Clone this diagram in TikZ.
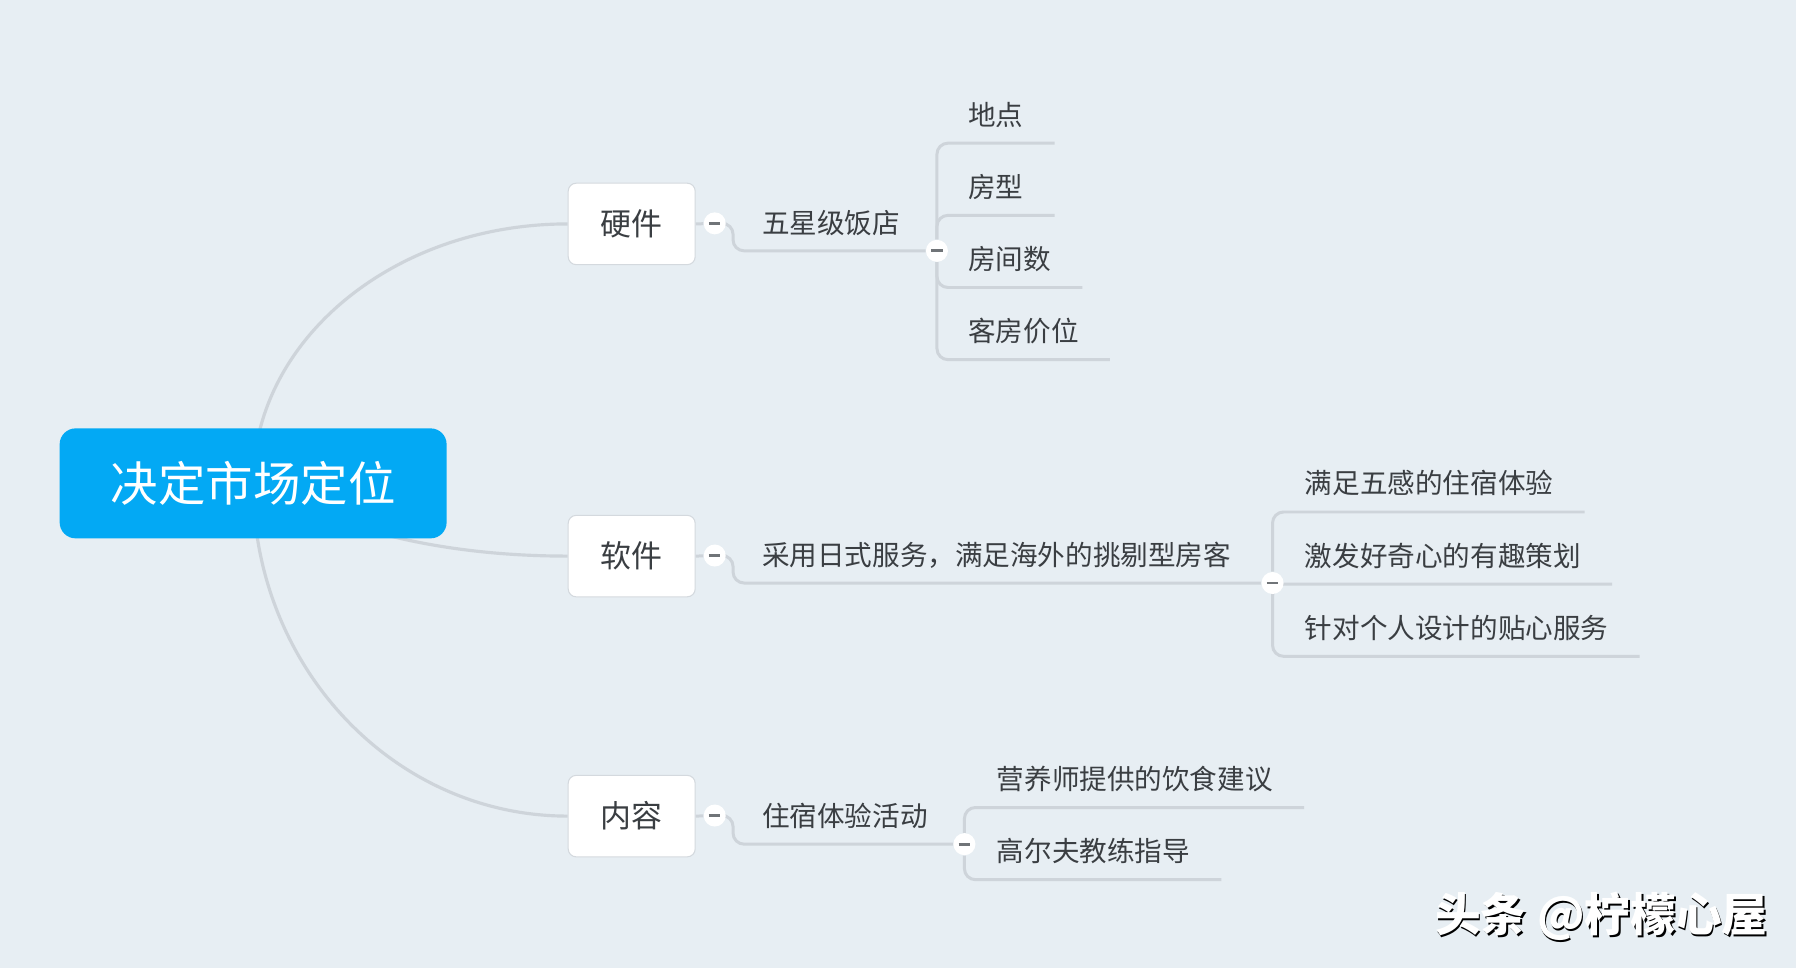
\documentclass[tikz,border=0pt]{standalone}
\usepackage{fontspec}
\setmainfont{Noto Sans CJK SC}
\usetikzlibrary{calc,backgrounds}

\definecolor{bgcol}{RGB}{231,238,243}
\definecolor{rootblue}{RGB}{3,169,244}
\definecolor{linegray}{RGB}{206,212,218}
\definecolor{boxline}{RGB}{212,217,222}
\definecolor{txtgray}{RGB}{58,62,66}
\definecolor{minusgray}{RGB}{112,116,120}

\tikzset{
  rootbox/.style={fill=rootblue, rounded corners=3.2mm, minimum width=77.4mm,
    minimum height=22mm, text=white, font=\fontsize{27pt}{30pt}\selectfont},
  topicbox/.style={draw=boxline, line width=0.6pt, fill=white, rounded corners=1.6mm,
    minimum width=25.4mm, minimum height=16.3mm, text=txtgray,
    font=\fontsize{17.6pt}{20pt}\selectfont},
  subtext/.style={anchor=west, inner sep=0pt, text=txtgray,
    font=\fontsize{15.7pt}{18pt}\selectfont},
  fold/.style={circle, fill=white, minimum size=4.4mm, inner sep=0pt,
    path picture={\draw[minusgray, line width=1.6pt]
      ([xshift=-1.15mm]path picture bounding box.center) --
      ([xshift=1.15mm]path picture bounding box.center);}},
  branch/.style={draw=linegray, line width=1.7pt, rounded corners=2.2mm},
  mainline/.style={draw=linegray, line width=1.8pt},
  markfont/.style={font=\fontsize{26pt}{28pt}\selectfont\bfseries}
}

\begin{document}
\begin{tikzpicture}[x=0.2291mm, y=-0.2291mm]
    % Canvas, measured in pixels of the screenshot
    \useasboundingbox (0,0) rectangle (1568,845);

    % Central topic and the three main topics
    \node[rootbox] (root) at (221,422) {决定市场定位};
    \node[topicbox] (hw) at (551.5,195.5) {硬件};
    \node[topicbox] (sw) at (551.5,485.5) {软件};
    \node[topicbox] (ct) at (551.5,712.5) {内容};

    % Collapse buttons next to the main topics
    \node[fold] (f1) at (624,195) {};
    \node[fold] (f2) at (624,485) {};
    \node[fold] (f3) at (624,712) {};

    % Second level
    \node[subtext] (hotel) at (665,195) {五星级饭店};
    \node[subtext] (service) at (665,485) {采用日式服务，满足海外的挑剔型房客};
    \node[subtext] (event) at (665,712) {住宿体验活动};

    % Collapse buttons of the second level
    \node[fold] (g1) at (818,219) {};
    \node[fold] (g2) at (1111,509) {};
    \node[fold] (g3) at (842,737) {};

    % Third level
    \node[subtext] (loc) at (845,100) {地点};
    \node[subtext] (room) at (845,163) {房型};
    \node[subtext] (num) at (845,226) {房间数};
    \node[subtext] (price) at (845,289) {客房价位};
    \node[subtext] (sense) at (1139,422) {满足五感的住宿体验};
    \node[subtext] (fun) at (1139,485) {激发好奇心的有趣策划};
    \node[subtext] (care) at (1139,548) {针对个人设计的贴心服务};
    \node[subtext] (diet) at (870,680) {营养师提供的饮食建议};
    \node[subtext] (golf) at (870,743) {高尔夫教练指导};

    % Watermark
    \node[markfont, text=black] (markshadow) at (1399.5,801.5) {头条 @柠檬心屋};
    \node[markfont, text=white] (mark) at (1398,800) {头条 @柠檬心屋};

    \begin{scope}[on background layer]
        \fill[bgcol] (0,0) rectangle (1568,845);

        % Curves from the central topic
        \draw[mainline] (root.center) .. controls +(0,-125) and +(-152,0) .. (hw.west);
        \draw[mainline] (root.center) .. controls +(69,38) and +(-116,0) .. (sw.west);
        \draw[mainline] (root.center) .. controls +(0,160) and +(-152,0) .. (ct.west);

        % Main topic to second level
        \draw[branch] (hw.east) -- (f1);
        \draw[branch] (sw.east) -- (f2);
        \draw[branch] (ct.east) -- (f3);
        \draw[branch] (f1) -- (640,195) -- (640,219) -- (g1);
        \draw[branch] (f2) -- (640,485) -- (640,509) -- (g2);
        \draw[branch] (f3) -- (640,712) -- (640,737) -- (g3);

        % Second level to third level, each leaf underlined
        \foreach \leaf in {loc,room,num,price}
            \draw[branch] (g1) |- ($(\leaf.east)+(27,25)$);
        \foreach \leaf in {sense,fun,care}
            \draw[branch] (g2) |- ($(\leaf.east)+(27,25)$);
        \foreach \leaf in {diet,golf}
            \draw[branch] (g3) |- ($(\leaf.east)+(27,25)$);
    \end{scope}
\end{tikzpicture}
\end{document}
